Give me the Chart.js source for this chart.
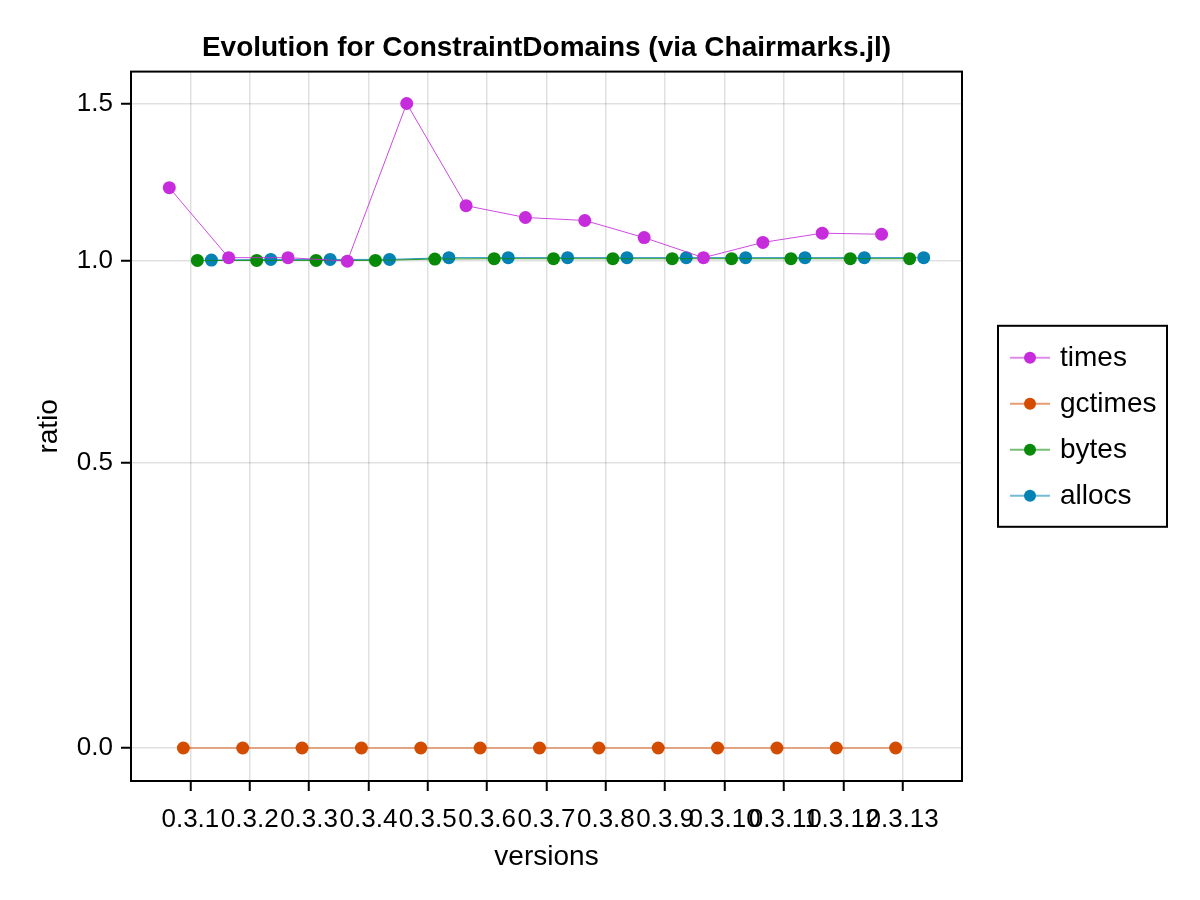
<!DOCTYPE html>
<html>
<head>
<meta charset="utf-8">
<script src="https://cdn.jsdelivr.net/npm/chart.js@4"></script>
<style>
  html, body { margin: 0; padding: 0; background: #fff; }
  #wrap { width: 1200px; height: 900px; }
</style>
</head>
<body>
<div id="wrap"><canvas id="evolutionChart"></canvas></div>
<script>
const versions = ['0.3.1', '0.3.2', '0.3.3', '0.3.4', '0.3.5', '0.3.6', '0.3.7',
                  '0.3.8', '0.3.9', '0.3.10', '0.3.11', '0.3.12', '0.3.13'];
const times   = [1.218, 1.008, 1.008, 0.998, 1.5, 1.162, 1.126, 1.117, 1.066, 1.008, 1.052, 1.079, 1.076];
const gctimes = [0, 0, 0, 0, 0, 0, 0, 0, 0, 0, 0, 0, 0];
const bytes   = [1.0, 1.0, 1.0, 1.0, 1.004, 1.005, 1.005, 1.005, 1.005, 1.005, 1.005, 1.005, 1.005];
const allocs  = [1.001, 1.003, 1.003, 1.003, 1.008, 1.008, 1.008, 1.008, 1.008, 1.008, 1.008, 1.008, 1.008];
const yTicks  = [0, 0.5, 1.0, 1.5];

// pseudolog10 axis, like Makie
const plog = v => Math.sign(v) * Math.log10(Math.abs(v) + 1);

// dodge each series around its version
const dodge = [-0.355, -0.118, 0.118, 0.355];
const series = [
    { label: 'times',   values: times,   color: '198, 44, 220' },
    { label: 'gctimes', values: gctimes, color: '211, 76, 0' },
    { label: 'bytes',   values: bytes,   color: '8, 138, 8' },
    { label: 'allocs',  values: allocs,  color: '4, 130, 180' }
];

const font = "'Liberation Sans', Arial, sans-serif";

const frame = {
    id: 'frame',
    afterDraw(chart) {
        const { ctx, chartArea: a } = chart;
        ctx.save();
        ctx.strokeStyle = '#000';
        ctx.lineWidth = 2;
        ctx.strokeRect(a.left, a.top, a.right - a.left, a.bottom - a.top);
        ctx.restore();
    }
};

const boxLegend = {
    id: 'boxLegend',
    afterDraw(chart) {
        const { ctx, chartArea: a } = chart;
        const w = 169, h = 201;
        const left = a.right + 36;
        const top = (a.top + a.bottom) / 2 - h / 2;
        ctx.save();
        ctx.strokeStyle = '#000';
        ctx.lineWidth = 2;
        ctx.strokeRect(left, top, w, h);
        chart.data.datasets.forEach((ds, i) => {
            const y = top + 32 + i * 46;
            ctx.strokeStyle = ds.legendLine;
            ctx.lineWidth = 2;
            ctx.beginPath();
            ctx.moveTo(left + 12, y);
            ctx.lineTo(left + 52, y);
            ctx.stroke();
            ctx.fillStyle = ds.pointBackgroundColor;
            ctx.beginPath();
            ctx.arc(left + 32, y, 6, 0, Math.PI * 2);
            ctx.fill();
            ctx.fillStyle = '#000';
            ctx.font = '28px ' + font;
            ctx.textBaseline = 'middle';
            ctx.fillText(ds.label, left + 62, y);
        });
        ctx.restore();
    }
};

new Chart(document.getElementById('evolutionChart'), {
    type: 'line',
    data: {
        datasets: series.map((s, k) => ({
            label: s.label,
            data: s.values.map((v, i) => ({ x: i + 1 + dodge[k], y: plog(v) })),
            borderColor: `rgba(${s.color}, 0.85)`,
            legendLine: `rgba(${s.color}, 0.55)`,
            borderWidth: 1,
            pointBackgroundColor: `rgb(${s.color})`,
            pointBorderWidth: 0,
            pointRadius: 6.5,
            tension: 0
        }))
    },
    options: {
        responsive: true,
        maintainAspectRatio: false,
        animation: false,
        layout: { padding: { left: 0, right: 238, top: 0, bottom: 0 } },
        scales: {
            x: {
                type: 'linear',
                min: 0,
                max: 14,
                afterBuildTicks: scale => {
                    scale.ticks = versions.map((v, i) => ({ value: i + 1 }));
                },
                afterFit: scale => { scale.height = 119; },
                ticks: {
                    callback: value => versions[value - 1],
                    autoSkip: false,
                    maxRotation: 0,
                    minRotation: 0,
                    padding: 13,
                    color: '#000',
                    font: { family: font, size: 26 }
                },
                grid: {
                    color: 'rgba(0, 0, 0, 0.12)',
                    lineWidth: 1.5,
                    tickColor: '#000',
                    tickWidth: 2,
                    tickLength: 10
                },
                border: { display: false },
                title: {
                    display: true,
                    text: 'versions',
                    color: '#000',
                    font: { family: font, size: 28 },
                    padding: { top: 0, bottom: 26 }
                }
            },
            y: {
                type: 'linear',
                min: plog(-0.048),
                max: plog(1.616),
                afterBuildTicks: scale => {
                    scale.ticks = yTicks.map(v => ({ value: plog(v) }));
                },
                afterFit: scale => { scale.width = 131; },
                ticks: {
                    callback: (value, index) => yTicks[index].toFixed(1),
                    padding: 8,
                    color: '#000',
                    font: { family: font, size: 26 }
                },
                grid: {
                    color: 'rgba(0, 0, 0, 0.12)',
                    lineWidth: 1.5,
                    tickColor: '#000',
                    tickWidth: 2,
                    tickLength: 10
                },
                border: { display: false },
                title: {
                    display: true,
                    text: 'ratio',
                    color: '#000',
                    font: { family: font, size: 28 },
                    padding: { top: 32, bottom: 0 }
                }
            }
        },
        plugins: {
            legend: { display: false },
            tooltip: { enabled: false },
            title: {
                display: true,
                fullSize: false,
                text: 'Evolution for ConstraintDomains (via Chairmarks.jl)',
                color: '#000',
                font: { family: font, size: 28, weight: 'bold' },
                padding: { top: 31, bottom: 7 }
            }
        }
    },
    plugins: [frame, boxLegend]
});
</script>
</body>
</html>
